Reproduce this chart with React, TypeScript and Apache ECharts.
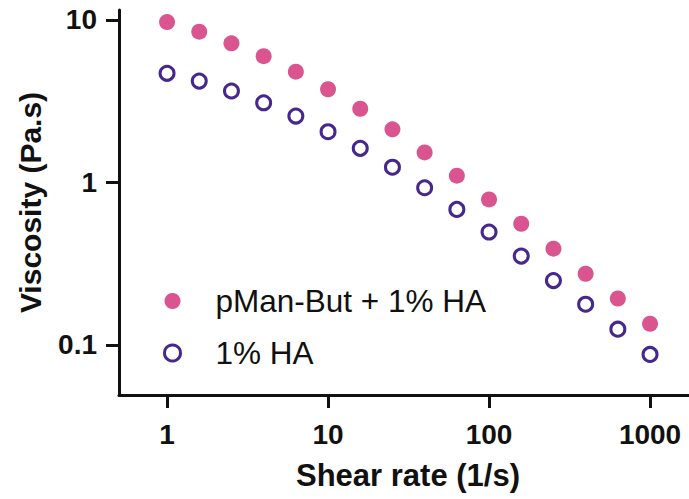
import React, { useEffect, useRef } from "react";
import * as echarts from "echarts";

const shearRate = [1, 1.585, 2.512, 3.981, 6.31, 10, 15.85, 25.12, 39.81, 63.1, 100, 158.5, 251.2, 398.1, 631, 1000];
const viscosityPMan = [9.69, 8.46, 7.17, 5.98, 4.8, 3.74, 2.84, 2.12, 1.53, 1.1, 0.786, 0.557, 0.391, 0.274, 0.193, 0.135];
const viscosityHA = [4.69, 4.2, 3.65, 3.09, 2.56, 2.05, 1.62, 1.24, 0.927, 0.682, 0.495, 0.352, 0.249, 0.178, 0.125, 0.0874];
const xTicks = [1, 10, 100, 1000];
const yTicks = [0.1, 1, 10];
const seriesNames = ["pMan-But + 1% HA", "1% HA"];

const PINK = "#DA5490";
const PURPLE = "#46278E";
const FONT = "Liberation Sans";

export default function App() {
  const ref = useRef<HTMLDivElement>(null);
  useEffect(() => {
    if (!ref.current) return;
    const chart = echarts.init(ref.current, undefined, { renderer: "svg" });
    const pairs = (ys: number[]) => shearRate.map((x, i) => [x, ys[i]]);
    const fmt = (v: number) => String(Number(v.toPrecision(6)));
    chart.setOption({
      animation: false,
      backgroundColor: "#fff",
      grid: { left: 119, right: 0, top: 10, bottom: 104, containLabel: false },
      legend: {
        orient: "vertical",
        left: 158,
        top: 279,
        itemWidth: 76,
        itemHeight: 16,
        itemGap: 18,
        textStyle: { fontFamily: FONT, fontSize: 31.5, color: "#111", lineHeight: 34 },
        data: [
          { name: seriesNames[0], icon: "circle", itemStyle: { color: PINK, borderWidth: 0 } },
          { name: seriesNames[1], icon: "circle", itemStyle: { color: "#fff", borderColor: PURPLE, borderWidth: 3 } },
        ],
      },
      xAxis: {
        type: "log",
        logBase: 10,
        min: 0.503,
        max: 1746,
        name: "Shear rate (1/s)",
        nameLocation: "middle",
        nameGap: 65,
        nameTextStyle: { fontFamily: FONT, fontSize: 31, fontWeight: "bold", color: "#111", padding: [0, 0, 0, 8] },
        axisLine: { show: true, lineStyle: { color: "#111", width: 3 } },
        axisTick: { show: true, length: 13, lineStyle: { color: "#111", width: 3 }, customValues: xTicks },
        axisLabel: { fontFamily: FONT, fontSize: 28, fontWeight: "bold", color: "#111", margin: 25, customValues: xTicks, formatter: fmt },
        splitLine: { show: false },
        minorTick: { show: false },
      },
      yAxis: {
        type: "log",
        logBase: 10,
        min: 0.0492,
        max: 11.5,
        name: "Viscosity (Pa.s)",
        nameLocation: "middle",
        nameGap: 74,
        nameTextStyle: { fontFamily: FONT, fontSize: 30, fontWeight: "bold", color: "#111" },
        axisLine: { show: true, lineStyle: { color: "#111", width: 3 } },
        axisTick: { show: true, length: 13, lineStyle: { color: "#111", width: 3 }, customValues: yTicks },
        axisLabel: { fontFamily: FONT, fontSize: 28, fontWeight: "bold", color: "#111", margin: 22, customValues: yTicks, formatter: fmt },
        splitLine: { show: false },
      },
      series: [
        {
          name: seriesNames[0],
          type: "scatter",
          symbol: "circle",
          symbolSize: 16,
          itemStyle: { color: PINK, opacity: 1 },
          data: pairs(viscosityPMan),
          z: 2,
        },
        {
          name: seriesNames[1],
          type: "scatter",
          symbol: "circle",
          symbolSize: 14,
          itemStyle: { color: "#fff", borderColor: PURPLE, borderWidth: 3, opacity: 1 },
          data: pairs(viscosityHA),
          z: 3,
        },
      ],
    });
    return () => chart.dispose();
  }, []);
  return <div ref={ref} style={{ width: 689, height: 499, position: "absolute", left: 0, top: 0 }} />;
}
